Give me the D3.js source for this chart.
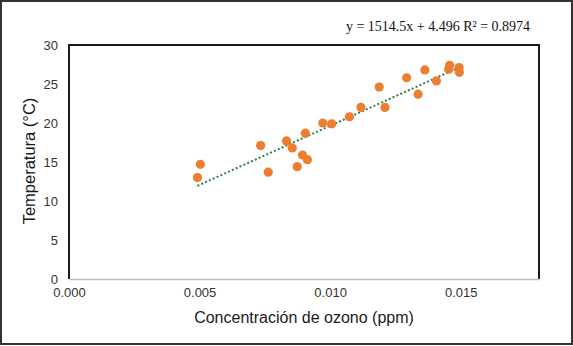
<!DOCTYPE html>
<html>
<head>
<meta charset="utf-8">
<script src="https://cdn.jsdelivr.net/npm/d3@7"></script>
<style>
  body { margin: 0; background: #fff; }
  svg { display: block; }
</style>
</head>
<body>
<script>
// ozone concentration (ppm) vs temperature (°C)
const ozono = [0.00503, 0.00492, 0.00734, 0.00763, 0.00833, 0.00855, 0.00874, 0.00894,
  0.00913, 0.00905, 0.00972, 0.01006, 0.01074, 0.01118, 0.01188, 0.0121, 0.01293,
  0.01337, 0.01363, 0.01407, 0.01458, 0.01454, 0.01494, 0.01495];
const temperatura = [14.7, 13.0, 17.1, 13.7, 17.7, 16.8, 14.4, 15.9,
  15.3, 18.7, 20.0, 19.9, 20.8, 22.0, 24.6, 22.0, 25.8,
  23.7, 26.8, 25.4, 27.4, 26.9, 27.1, 26.5];
const xTicks = [0, 0.005, 0.010, 0.015];
const yTicks = [0, 5, 10, 15, 20, 25, 30];
const slope = 1514.5, intercept = 4.496;
const ecuacion = "y = 1514.5x + 4.496 R² = 0.8974";

const width = 573;
const height = 346;
const data = ozono.map((x, i) => ({ x: x, y: temperatura[i] }));

const svg = d3.select("body").append("svg").attr("width", width).attr("height", height);

// outer frame
svg.append("rect")
  .attr("x", 1).attr("y", 1).attr("width", width - 2).attr("height", height - 3)
  .attr("fill", "#fff").attr("stroke", "#333").attr("stroke-width", 2);

const plotL = 69, plotR = 539, plotT = 45, plotB = 279;

const xScale = d3.scaleLinear().domain([0, 0.018]).range([plotL, plotR]);
const yScale = d3.scaleLinear().domain([0, 30]).range([plotB, plotT]);

// plot box (black on left, top, right)
svg.append("path")
  .attr("d", `M${plotL},${plotB}V${plotT}H${plotR}V${plotB}`)
  .attr("fill", "none").attr("stroke", "#1a1a1a").attr("stroke-width", 2);

const axisx = d3.axisBottom(xScale)
  .tickValues(xTicks)
  .tickSize(0)
  .tickPadding(9)
  .tickFormat(d3.format(".3f"));
const axisy = d3.axisLeft(yScale)
  .tickValues(yTicks)
  .tickSize(0)
  .tickPadding(11);

const gx = svg.append("g")
  .attr("transform", "translate(0," + plotB + ")")
  .call(axisx);
gx.select(".domain").attr("stroke", "#bfbfbf").attr("stroke-width", 1.5);

const gy = svg.append("g")
  .attr("transform", "translate(" + plotL + ",0)")
  .call(axisy);
gy.select(".domain").remove();

svg.selectAll(".tick text")
  .attr("font-family", "Liberation Sans, Arial, sans-serif")
  .attr("font-size", 13)
  .attr("fill", "#333");

// trendline
const xr = d3.extent(ozono);
svg.append("line")
  .attr("x1", xScale(xr[0])).attr("y1", yScale(slope * xr[0] + intercept))
  .attr("x2", xScale(xr[1])).attr("y2", yScale(slope * xr[1] + intercept))
  .attr("stroke", "#2f7f45").attr("stroke-width", 2)
  .attr("stroke-dasharray", "2,2.2");

// points
svg.append("g").selectAll("circle")
  .data(data)
  .join("circle")
  .attr("cx", d => xScale(d.x))
  .attr("cy", d => yScale(d.y))
  .attr("r", 4.6)
  .attr("fill", "#ed7d31");

// axis titles
svg.append("text")
  .attr("x", 304).attr("y", 323)
  .attr("text-anchor", "middle")
  .attr("font-family", "Liberation Sans, Arial, sans-serif")
  .attr("font-size", 16)
  .attr("fill", "#1a1a1a")
  .text("Concentración de ozono (ppm)");

svg.append("text")
  .attr("transform", "translate(35,161) rotate(-90)")
  .attr("text-anchor", "middle")
  .attr("font-family", "Liberation Sans, Arial, sans-serif")
  .attr("font-size", 16.5)
  .attr("fill", "#1a1a1a")
  .text("Temperatura (°C)");

// equation label
svg.append("text")
  .attr("x", 438).attr("y", 31)
  .attr("text-anchor", "middle")
  .attr("font-family", "Liberation Serif, Times New Roman, serif")
  .attr("font-size", 14)
  .attr("fill", "#111")
  .text(ecuacion);
</script>
</body>
</html>
